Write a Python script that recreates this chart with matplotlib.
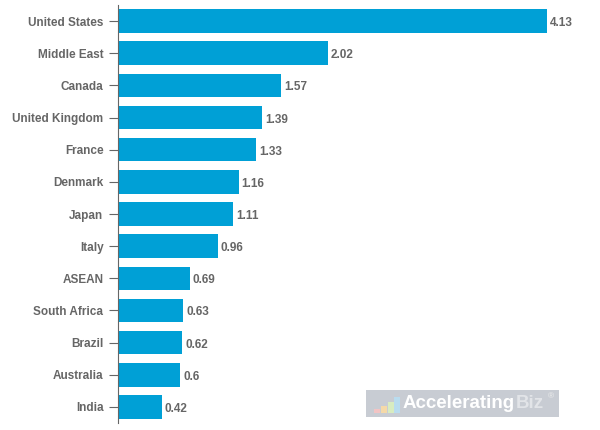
import matplotlib.pyplot as plt
from matplotlib.patches import Rectangle
from matplotlib.transforms import ScaledTranslation

countries = ['United States', 'Middle East', 'Canada', 'United Kingdom', 'France',
             'Denmark', 'Japan', 'Italy', 'ASEAN', 'South Africa', 'Brazil',
             'Australia', 'India']
values = [4.13, 2.02, 1.57, 1.39, 1.33, 1.16, 1.11, 0.96, 0.69, 0.63, 0.62, 0.6, 0.42]

plt.rcParams['font.family'] = ['Liberation Sans', 'DejaVu Sans']

fig = plt.figure(figsize=(6, 4.3), dpi=100)
ax = fig.add_axes([118 / 600, 7 / 430, 478 / 600, 418 / 430])

# nudge texts a couple of pixels down, like the original
shift = ScaledTranslation(0, -2 / 100, fig.dpi_scale_trans)

y = list(range(len(countries)))
ax.barh(y, values, height=0.73, color='#00a0d6')
for yi, v in zip(y, values):
    ax.text(v + 0.03, yi, f'{v:g}', va='center', ha='left',
            fontsize=8.5, fontweight='bold', color='#666666',
            transform=ax.transData + shift)

ax.set_xlim(0, 4.6)
ax.set_ylim(12.5, -0.5)
ax.set_yticks(y)
ax.set_yticklabels(countries, fontsize=8.5, fontweight='bold', color='#666666')
for lab in ax.get_yticklabels():
    lab.set_transform(lab.get_transform() + shift)
ax.tick_params(axis='y', length=6.5, width=0.8, color='#666666', pad=4)
ax.set_xticks([])
for side in ['top', 'right', 'bottom']:
    ax.spines[side].set_visible(False)
ax.spines['left'].set_color('#666666')
ax.spines['left'].set_linewidth(0.8)

# watermark
fig.patches.append(Rectangle((366 / 600, 13 / 430), 193 / 600, 27 / 430,
                             transform=fig.transFigure, fc='#c8ccd3', ec='none'))
logo = [('#f2c4c4', 374, 4), ('#f5d9a8', 381, 7), ('#d8ecc0', 388, 11), ('#b9dcef', 394, 16)]
for col, x0, h in logo:
    fig.patches.append(Rectangle((x0 / 600, 17 / 430), 6 / 600, h / 430,
                                 transform=fig.transFigure, fc=col, ec='none'))
fig.text(403 / 600, 27 / 430, 'Accelerating', fontsize=13.5, fontweight='bold',
         color='white', ha='left', va='center')
fig.text(516 / 600, 27 / 430, 'Biz', fontsize=13.5, fontweight='bold',
         color='#e2e4e8', ha='left', va='center')
fig.text(548 / 600, 33 / 430, '®', fontsize=6, color='#eeeeee', ha='left', va='center')

plt.savefig('out.png', dpi=100)
